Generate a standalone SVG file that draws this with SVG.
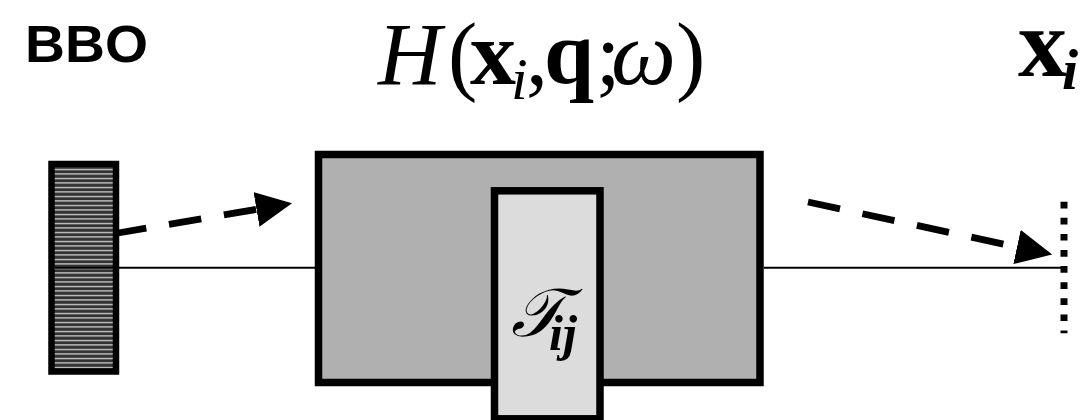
<svg xmlns="http://www.w3.org/2000/svg" width="1089" height="420" viewBox="0 0 1089 420">
<style>
.frame{stroke:#000;stroke-width:7.5}
.dash{fill:none;stroke:#000;stroke-width:6.8;stroke-dasharray:32.7 23}
.thin{stroke:#000;stroke-width:2}
.serif{font-family:"Liberation Serif","DejaVu Serif",serif;fill:#000}
.it{font-style:italic}
.bf{font-weight:bold}
</style>
<defs>
<pattern id="stripes" patternUnits="userSpaceOnUse" x="0" y="167" width="10" height="4.5">
<rect width="10" height="4.5" fill="#333"/>
<rect y="2" width="10" height="1" fill="#fff"/>
</pattern>
<marker id="head" markerUnits="userSpaceOnUse" viewBox="0 0 36 35" markerWidth="36" markerHeight="35" refX="0" refY="17.5" orient="auto">
<path d="M0,0 L36,17.5 L0,35 z" fill="#000"/>
</marker>
</defs>
<rect width="1089" height="420" fill="#fff"/>

<g id="labels">
<text x="25" y="61.7" font-family="'Liberation Sans',Arial,sans-serif" font-weight="bold" font-size="51" textLength="123" lengthAdjust="spacingAndGlyphs">BBO</text>
<text class="serif" y="84" font-size="88"><tspan class="it" x="378">H</tspan><tspan x="448">(</tspan><tspan class="bf" x="470" font-size="92">x</tspan><tspan class="it" x="511" y="99" font-size="60">i</tspan><tspan x="526" y="84">,</tspan><tspan class="bf" x="544" font-size="90">q</tspan><tspan x="596">;</tspan><tspan class="it" x="611" font-size="92">ω</tspan><tspan x="676">)</tspan></text>
<text class="serif" y="76" font-size="98"><tspan class="bf" x="1018">x</tspan><tspan class="bf it" x="1062" y="89" font-size="58">i</tspan></text>
</g>

<g id="bbo">
<rect x="51.5" y="164" width="64.5" height="207.5" fill="url(#stripes)" stroke="#000" stroke-width="6.5"/>
</g>

<g id="connectors">
<line class="thin" x1="55" y1="267.7" x2="315" y2="267.7"/>
<line class="thin" x1="764" y1="267.7" x2="1064" y2="267.7"/>
<path class="dash" d="M118,233 L256.5,209.4" stroke-dashoffset="4" marker-end="url(#head)"/>
<path class="dash" d="M808,202 L1017,247" marker-end="url(#head)"/>
</g>

<g id="system">
<rect class="frame" x="318.5" y="154.5" width="441.5" height="228" fill="#b0b0b0"/>
</g>

<g id="transfer">
<rect class="frame" x="494.5" y="190.8" width="105.5" height="228" fill="#dcdcdc"/>
<text class="serif" y="336" font-size="68"><tspan class="it" x="511">𝒯</tspan><tspan class="bf it" x="549" y="350" font-size="50">ij</tspan></text>
</g>

<g id="detector">
<line x1="1064" y1="201.7" x2="1064" y2="333.3" stroke="#000" stroke-width="7" stroke-dasharray="6.7 9.4"/>
</g>
</svg>
